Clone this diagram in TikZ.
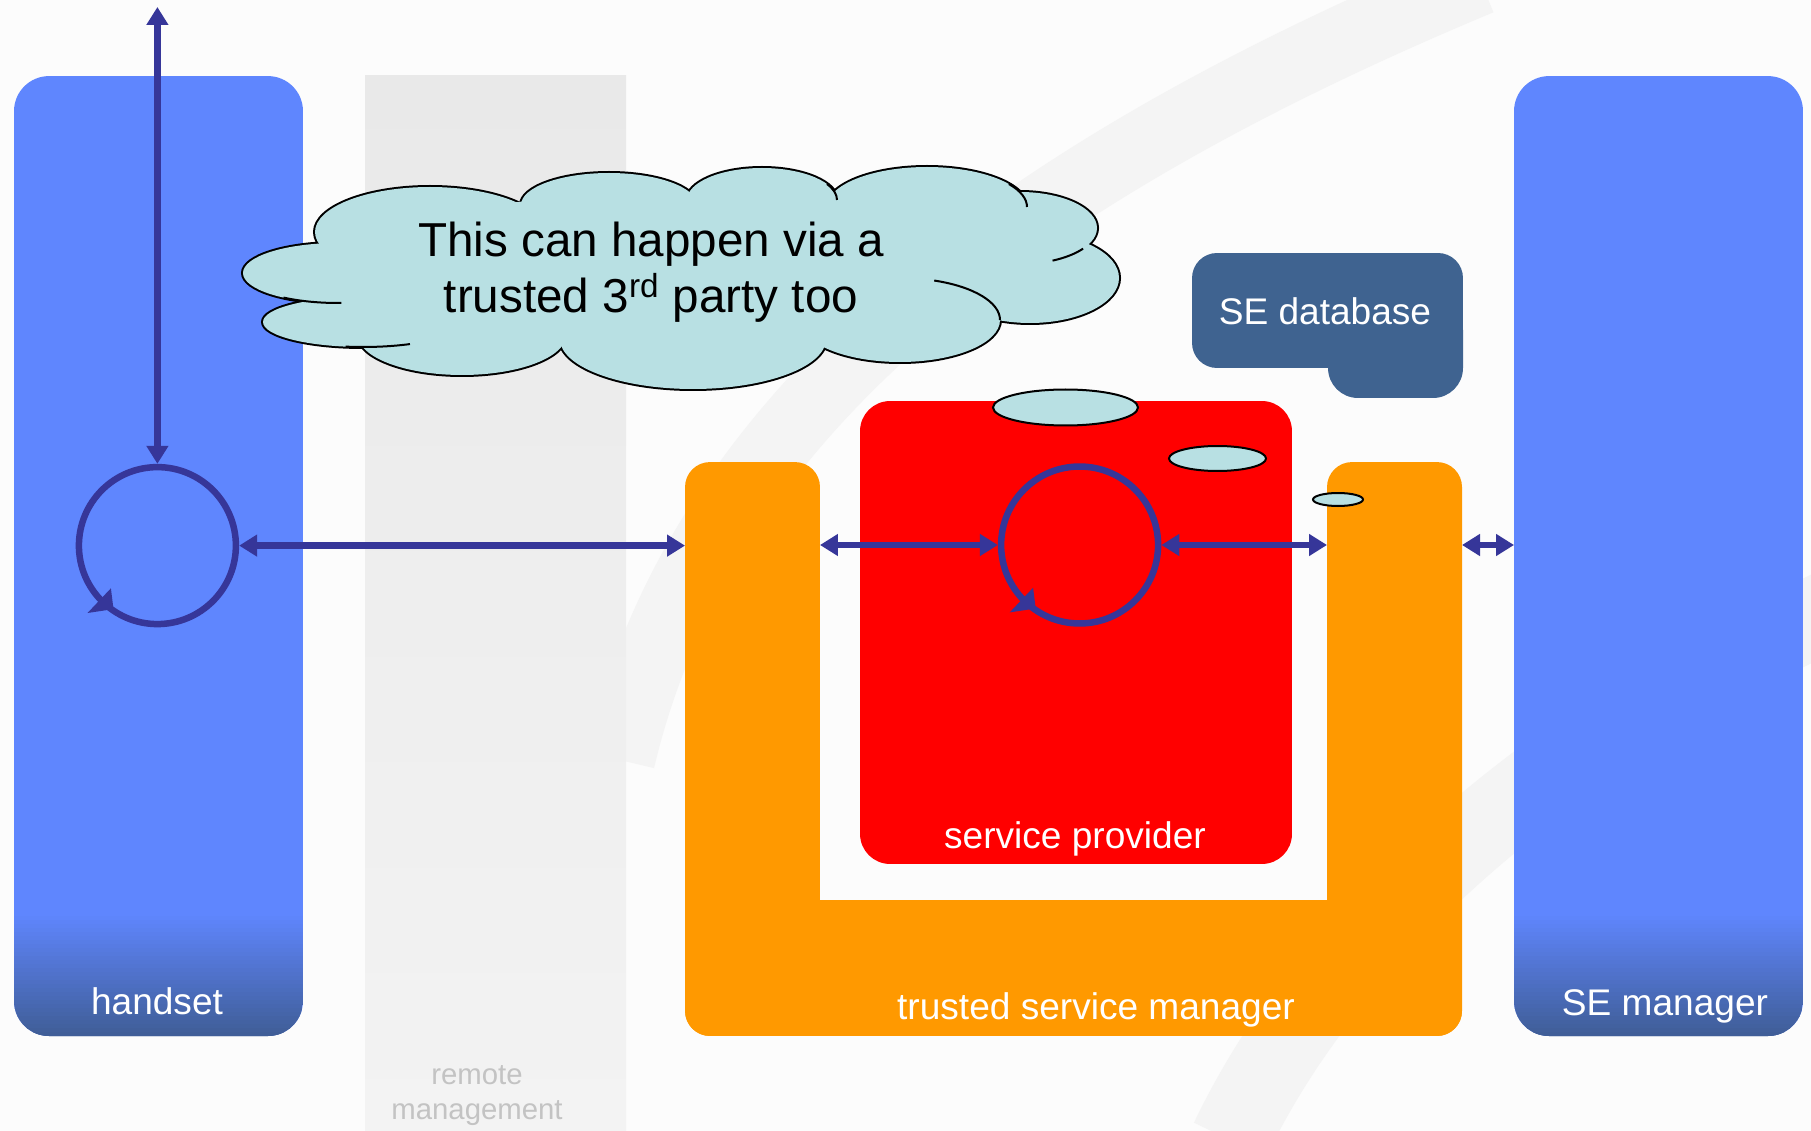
\documentclass[tikz,border=0pt]{standalone}
\usepackage{fontspec}
\setmainfont{Liberation Sans}
\usetikzlibrary{arrows.meta}
\definecolor{boxblue}{RGB}{95,134,254}
\definecolor{boxdark}{RGB}{64,94,152}
\definecolor{tsmorange}{RGB}{255,153,0}
\definecolor{spred}{RGB}{255,0,0}
\definecolor{dbblue}{RGB}{63,99,144}
\definecolor{cloudfill}{RGB}{184,224,227}
\definecolor{arrowblue}{RGB}{54,54,153}
\definecolor{colgraytop}{RGB}{233,233,233}
\definecolor{colgraybot}{RGB}{243,243,243}
\definecolor{remotegray}{RGB}{195,195,195}
\definecolor{swooshgray}{RGB}{244,244,244}
\begin{document}
\begin{tikzpicture}[x=0.02cm, y=-0.02cm,
  panel/.style={rectangle, inner sep=0pt, outer sep=0pt, draw=none},
  link/.style={draw=arrowblue, line width=0.125cm, {Triangle[length=0.36cm,width=0.42cm]}-{Triangle[length=0.36cm,width=0.42cm]}},
  loopring/.style={circle, draw=arrowblue, line width=0.13cm, inner sep=0pt, minimum size=3.14cm},
  lbl/.style={text=white, font=\fontsize{21.1}{25}\selectfont, anchor=base, inner sep=0pt},
  bubble/.style={fill=cloudfill, draw=black, line width=0.04cm}]
\useasboundingbox (0,0) rectangle (1811,1131);
\fill[white!99!black] (0,0) rectangle (1811,1131);
% faint background swooshes
\draw[swooshgray, line width=1.4cm] (620,760) .. controls (700,420) and (1000,180) .. (1480,-20);
\draw[swooshgray, line width=1.6cm] (1230,1140) .. controls (1330,930) and (1550,740) .. (1830,610);
% remote management column
\shade[top color=colgraytop, bottom color=colgraybot] (365,76) rectangle (626,1131);
\node[anchor=base, text=remotegray, font=\fontsize{16.7}{20}\selectfont, inner sep=0pt] (rm1) at (477,1084) {remote};
\node[anchor=base, text=remotegray, font=\fontsize{16.7}{20}\selectfont, inner sep=0pt] (rm2) at (477,1119) {management};
% handset and SE manager
\node[panel, fill=boxblue, rounded corners=0.7cm, minimum width=5.78cm, minimum height=19.2cm] (handset) at (158.5,556) {};
\node[panel, fill=boxblue, rounded corners=0.7cm, minimum width=5.78cm, minimum height=19.2cm] (sem) at (1658.5,556) {};
\foreach \xa/\xb in {14/303, 1514/1803} {
  \begin{scope}
    \clip[rounded corners=0.7cm] (\xa,76) rectangle (\xb,1036);
    \foreach \i in {0,...,30} {
      \pgfmathsetmacro\p{100*\i/30}
      \fill[boxdark!\p!boxblue] (\xa,{912+\i*4}) rectangle (\xb,{917+\i*4});
    }
    \fill[boxdark] (\xa,1032) rectangle (\xb,1040);
  \end{scope}
}
% trusted service manager (U shape)
\node[panel, fill=tsmorange, rounded corners=0.5cm, minimum width=2.7cm, minimum height=11.48cm] (tsmL) at (752.5,749) {};
\node[panel, fill=tsmorange, rounded corners=0.5cm, minimum width=2.7cm, minimum height=11.48cm] (tsmR) at (1394.5,749) {};
\node[panel, fill=tsmorange, rounded corners=0.5cm, minimum width=15.54cm, minimum height=2.72cm] (tsmB) at (1073.5,968) {};
% service provider
\node[panel, fill=spred, rounded corners=0.6cm, minimum width=8.64cm, minimum height=9.26cm] (sp) at (1076,632.5) {};
% SE database
\node[panel, fill=dbblue, rounded corners=0.6cm, minimum width=2.7cm, minimum height=1.96cm] (dbext) at (1395.5,349) {};
\node[panel, fill=dbblue, rounded corners=0.5cm, minimum width=5.42cm, minimum height=2.3cm] (db) at (1327.5,310.5) {};
% small ellipses
\filldraw[bubble] (1065.5,407.5) ellipse [x radius=72.5, y radius=18];
\filldraw[bubble] (1217.5,458.5) ellipse [x radius=48.5, y radius=12.5];
\filldraw[bubble] (1338,499.5) ellipse [x radius=25, y radius=6.5];
% loops
\node[loopring] (hloop) at (157.4,545.6) {};
\node[loopring] (sploop) at (1079.6,545) {};
\fill[arrowblue, shift={(hloop.center)}] (-46.5,42.7) -- (-69.9,67.4) -- (-43.9,63.5) -- cycle;
\fill[arrowblue, shift={(sploop.center)}] (-46.5,42.7) -- (-69.9,67.4) -- (-43.9,63.5) -- cycle;
% connectors
\coordinate (top) at (157.4,7);
\draw[link] (hloop.north) -- (top);
\draw[link] (hloop.east) -- (hloop.east -| tsmL.west);
\draw[link] (sploop.west -| tsmL.east) -- (sploop.west);
\draw[link] (sploop.east) -- (sploop.east -| tsmR.west);
\draw[link] (sploop.east -| tsmR.east) -- (sploop.east -| sem.west);
% cloud
\foreach \cx/\cy/\rx/\ry in {338/273/95/30, 363/322/100/25, 462/335/104/40, 693/339/133/50, 900/320/100/42, 1030/278/89/45, 1020/228/77/36, 927/207/100/40, 762/200/75/32, 609/205/88/32, 430/232/115/45}
  \draw[black, line width=0.08cm] (\cx,\cy) ellipse [x radius=\rx, y radius=\ry];
\foreach \cx/\cy/\rx/\ry in {338/273/95/30, 363/322/100/25, 462/335/104/40, 693/339/133/50, 900/320/100/42, 1030/278/89/45, 1020/228/77/36, 927/207/100/40, 762/200/75/32, 609/205/88/32, 430/232/115/45, 680/275/340/67, 830/245/120/45, 560/250/150/50}
  \fill[cloudfill] (\cx,\cy) ellipse [x radius=\rx, y radius=\ry];
\draw[black, line width=0.04cm] (338,273) ++(125:95 and 30) arc[start angle=125, end angle=88, x radius=95, y radius=30];
\draw[black, line width=0.04cm] (363,322) ++(100:100 and 25) arc[start angle=100, end angle=62, x radius=100, y radius=25];
\draw[black, line width=0.04cm] (900,320) ++(-70:100 and 42) arc[start angle=-70, end angle=0, x radius=100, y radius=42];
\draw[black, line width=0.04cm] (1020,228) ++(35:77 and 36) arc[start angle=35, end angle=65, x radius=77, y radius=36];
\draw[black, line width=0.04cm] (927,207) ++(-35:100 and 40) arc[start angle=-35, end angle=0, x radius=100, y radius=40];
\draw[black, line width=0.04cm] (762,200) ++(-30:75 and 32) arc[start angle=-30, end angle=0, x radius=75, y radius=32];
\node[anchor=base, font=\fontsize{27.1}{33}\selectfont, inner sep=0pt] (c1) at (651,257) {This can happen via a};
\node[anchor=base, font=\fontsize{27.1}{33}\selectfont, inner sep=0pt] (c2) at (651,313) {trusted 3\textsuperscript{rd} party too};
% labels
\node[lbl] (handsetlbl) at (157,1014) {handset};
\node[lbl] (semlbl) at (1665,1015) {SE manager};
\node[lbl] (dblbl) at (1325,325) {SE database};
\node[lbl] (splbl) at (1075,848) {service provider};
\node[lbl] (tsmlbl) at (1096,1019) {trusted service manager};
\end{tikzpicture}
\end{document}
